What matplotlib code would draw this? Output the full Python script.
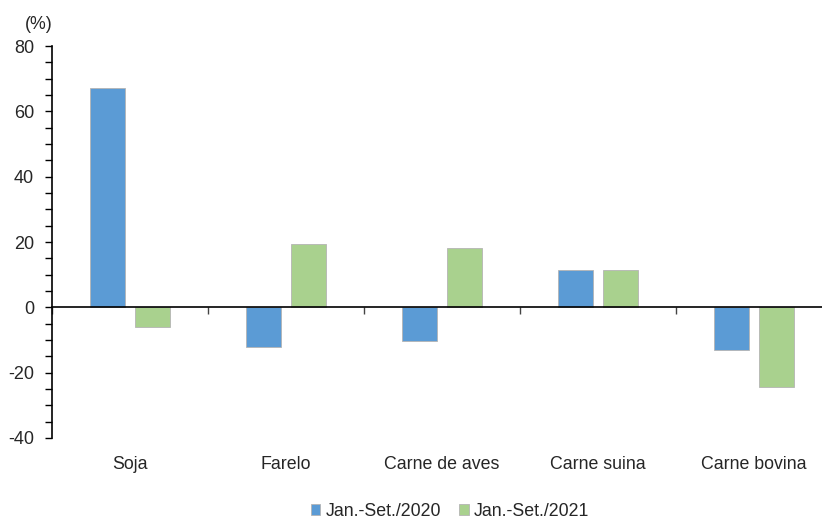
import numpy as np
import matplotlib
matplotlib.use('Agg')
import matplotlib.pyplot as plt
from matplotlib.ticker import MultipleLocator

plt.rcParams['font.family'] = ['Liberation Sans', 'DejaVu Sans']
plt.rcParams['axes.unicode_minus'] = False

categorias = ['Soja', 'Farelo', 'Carne de aves', 'Carne suina', 'Carne bovina']
serie_2020 = [67.0, -12.2, -10.2, 11.3, -13.0]
serie_2021 = [-6.0, 19.3, 18.2, 11.3, -24.3]
rotulos = ['Jan.-Set./2020', 'Jan.-Set./2021']

azul = '#5B9BD5'
verde = '#A9D18E'
cor_txt = '#262626'

fig = plt.figure(figsize=(8.22, 5.21), dpi=100)
ax = fig.add_axes([52/822, 1-438/521, 780/822, 392/521])

x = np.arange(len(categorias))
w = 0.224
off = 0.144
b1 = ax.bar(x - off, serie_2020, w, color=azul, edgecolor='#b4b4b4', linewidth=0.6, label=rotulos[0], zorder=2)
b2 = ax.bar(x + off, serie_2021, w, color=verde, edgecolor='#b4b4b4', linewidth=0.6, label=rotulos[1], zorder=2)

ax.set_xlim(-0.5, len(categorias) - 0.5)
ax.set_ylim(-40, 80)
ax.yaxis.set_major_locator(MultipleLocator(20))
ax.yaxis.set_minor_locator(MultipleLocator(5))

for s in ['top', 'right']:
    ax.spines[s].set_visible(False)
ax.spines['bottom'].set_position(('data', 0))
ax.spines['bottom'].set_zorder(3)
ax.spines['left'].set_linewidth(1.2)
ax.spines['bottom'].set_linewidth(1.2)

ax.set_xticks(np.arange(len(categorias) + 1) - 0.5)
ax.set_xticklabels([])
ax.tick_params(axis='x', direction='out', length=5, width=1, color='#444444')
ax.tick_params(axis='y', which='both', direction='out', length=5, width=1, labelsize=13, pad=8, colors='black', labelcolor=cor_txt)

for i, c in enumerate(categorias):
    ax.text(i, -48.2, c, ha='center', va='center', fontsize=12.8, color=cor_txt)

ax.text(-0.583, 86.5, '(%)', ha='center', va='center', fontsize=12.8, color=cor_txt)

fig.legend(handles=[b1, b2], labels=rotulos, loc='center', bbox_to_anchor=(450/822, 1-511/521),
           ncol=2, frameon=False, fontsize=12.8, handlelength=0.55, handleheight=0.55,
           handletextpad=0.3, columnspacing=1.0, labelcolor=cor_txt)

fig.savefig('out.png', dpi=100)
